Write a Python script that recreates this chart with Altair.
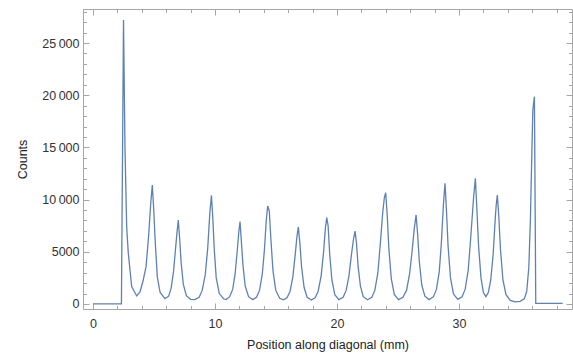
import altair as alt
import pandas as pd

# Position along diagonal (mm) and counts
position_mm = [
    0.0, 2.33, 2.50, 2.62, 2.76, 2.89, 3.17, 3.58,
    3.85, 4.10, 4.35, 4.55, 4.73, 4.86, 4.98, 5.08, 5.27, 5.50, 5.90,
    6.20, 6.40, 6.60, 6.78, 6.88, 6.99, 7.10, 7.22, 7.40, 7.65, 8.00, 8.35,
    8.70, 8.95, 9.20, 9.40, 9.58, 9.71, 9.82, 9.94, 10.10, 10.35, 10.70, 10.90,
    11.20, 11.45, 11.65, 11.83, 11.95, 12.05, 12.16, 12.30, 12.48, 12.75, 13.10,
    13.40, 13.65, 13.88, 14.05, 14.20, 14.32, 14.45, 14.58, 14.75, 14.98, 15.30, 15.60,
    15.90, 16.15, 16.38, 16.58, 16.72, 16.83, 16.95, 17.10, 17.30, 17.55, 17.90,
    18.20, 18.45, 18.70, 18.90, 19.05, 19.16, 19.27, 19.40, 19.58, 19.82, 20.15,
    20.50, 20.75, 20.98, 21.18, 21.35, 21.48, 21.60, 21.73, 21.92, 22.15, 22.50,
    22.85, 23.10, 23.35, 23.55, 23.75, 23.88, 23.99, 24.12, 24.25, 24.45, 24.70, 25.05,
    25.40, 25.70, 25.95, 26.15, 26.33, 26.48, 26.60, 26.75, 26.95, 27.20, 27.55,
    27.90, 28.15, 28.38, 28.55, 28.72, 28.85, 28.97, 29.10, 29.30, 29.55, 29.90,
    30.25, 30.50, 30.75, 30.95, 31.20, 31.34, 31.46, 31.60, 31.80, 32.00, 32.20,
    32.40, 32.60, 32.80, 32.97, 33.05, 33.14, 33.26, 33.40, 33.60, 33.85, 34.20, 34.60, 35.00,
    35.35, 35.55, 35.72, 35.85, 35.95, 36.05, 36.18, 36.29, 38.50,
]
counts = [
    20, 20, 27200, 15000, 7400, 4900, 1660, 770,
    1150, 2200, 3600, 6400, 9600, 11400, 9000, 6400, 2600, 1100, 520,
    750, 1500, 3100, 5500, 6800, 8050, 6300, 4000, 1900, 800, 450, 420,
    650, 1300, 2800, 5300, 8800, 10400, 8200, 5200, 2500, 1000, 500, 420,
    700, 1400, 2900, 5200, 6900, 7890, 6000, 3600, 1700, 700, 420,
    650, 1300, 2900, 5200, 8000, 9390, 8900, 6200, 3200, 1300, 550, 400,
    600, 1200, 2600, 4800, 6500, 7380, 5900, 3500, 1600, 650, 380,
    600, 1200, 2700, 5000, 7300, 8270, 7500, 4800, 2300, 900, 420,
    650, 1300, 2700, 4700, 6200, 6990, 5800, 3600, 1700, 700, 400,
    650, 1300, 3000, 5800, 8800, 10200, 10660, 8400, 5300, 2400, 900, 420,
    650, 1300, 2900, 5000, 7200, 8530, 6800, 4000, 1800, 750, 420,
    700, 1400, 3100, 5800, 9500, 11560, 9000, 5600, 2500, 950, 450,
    700, 1400, 3200, 6200, 10300, 12040, 9200, 5600, 2500, 1100, 700,
    1100, 2300, 4800, 8200, 9500, 10440, 8400, 5200, 2300, 900, 350, 200, 250,
    500, 1200, 3500, 8000, 13500, 18600, 19860, 60, 60,
]

x_major = [0, 10, 20, 30]
x_minor = [2, 4, 6, 8, 12, 14, 16, 18, 22, 24, 26, 28, 32, 34, 36, 38]
y_major = [0, 5000, 10000, 15000, 20000, 25000]
y_minor = [v for v in range(0, 29000, 1000) if v % 5000 != 0]

df = pd.DataFrame({"pos": position_mm, "counts": counts})

W, H = 489, 300
FRAME = "#a6a6a6"
FONT = "Liberation Sans"

xscale = alt.Scale(domain=[-0.82, 39.26], nice=False, zero=False)
yscale = alt.Scale(domain=[-479, 28257], nice=False, zero=False)

label_expr = ("datum.value >= 10000 ? replace(format(datum.value, ','), ',', '\u2009') "
              ": format(datum.value, 'd')")


def tick_axis(orient, offset, values, size, domain):
    return alt.Axis(orient=orient, offset=offset, values=values, tickSize=size,
                    labels=False, title=None, domain=domain, domainColor=FRAME,
                    tickColor=FRAME, grid=False, ticks=True, tickWidth=1, domainWidth=1)


base = alt.Chart(df)

main = base.mark_line(color="#5E81B5", strokeWidth=1.3, clip=True).encode(
    x=alt.X("pos:Q", scale=xscale, axis=alt.Axis(
        orient="bottom", values=x_major, ticks=False, domain=False, grid=False,
        labelFont=FONT, labelFontSize=12.5, labelColor="#333333", labelPadding=8,
        title="Position along diagonal (mm)", titleFont=FONT, titleFontSize=12.5,
        titleFontWeight="normal", titleColor="#222222", titlePadding=9)),
    y=alt.Y("counts:Q", scale=yscale, axis=alt.Axis(
        orient="left", values=y_major, ticks=False, domain=False, grid=False,
        labelFont=FONT, labelFontSize=12.5, labelColor="#333333", labelPadding=4,
        labelExpr=label_expr,
        title="Counts", titleFont=FONT, titleFontSize=12.5, titleFontWeight="normal",
        titleColor="#222222", titlePadding=12)),
)


def ghost(xaxis, yaxis):
    return base.mark_line(opacity=0).encode(
        x=alt.X("pos:Q", scale=xscale, axis=xaxis),
        y=alt.Y("counts:Q", scale=yscale, axis=yaxis),
    )


l_bottom_major = ghost(tick_axis("top", -H, x_major, 6, True),
                       tick_axis("right", -W, y_major, 6, True))
l_bottom_minor = ghost(tick_axis("top", -H, x_minor, 3.5, False),
                       tick_axis("right", -W, y_minor, 3.5, False))
l_top_major = ghost(tick_axis("bottom", -H, x_major, 6, True),
                    tick_axis("left", -W, y_major, 6, True))
l_top_minor = ghost(tick_axis("bottom", -H, x_minor, 3.5, False),
                    tick_axis("left", -W, y_minor, 3.5, False))

chart = alt.layer(main, l_bottom_major, l_bottom_minor, l_top_major, l_top_minor).resolve_axis(
    x="independent", y="independent"
).properties(
    width=W, height=H,
    autosize=alt.AutoSizeParams(type="none"),
    padding={"left": 83, "top": 9, "right": 1, "bottom": 45},
).configure_view(stroke=None).configure(background="white")

chart.save("out.html", embed_options={"renderer": "svg", "actions": False})
